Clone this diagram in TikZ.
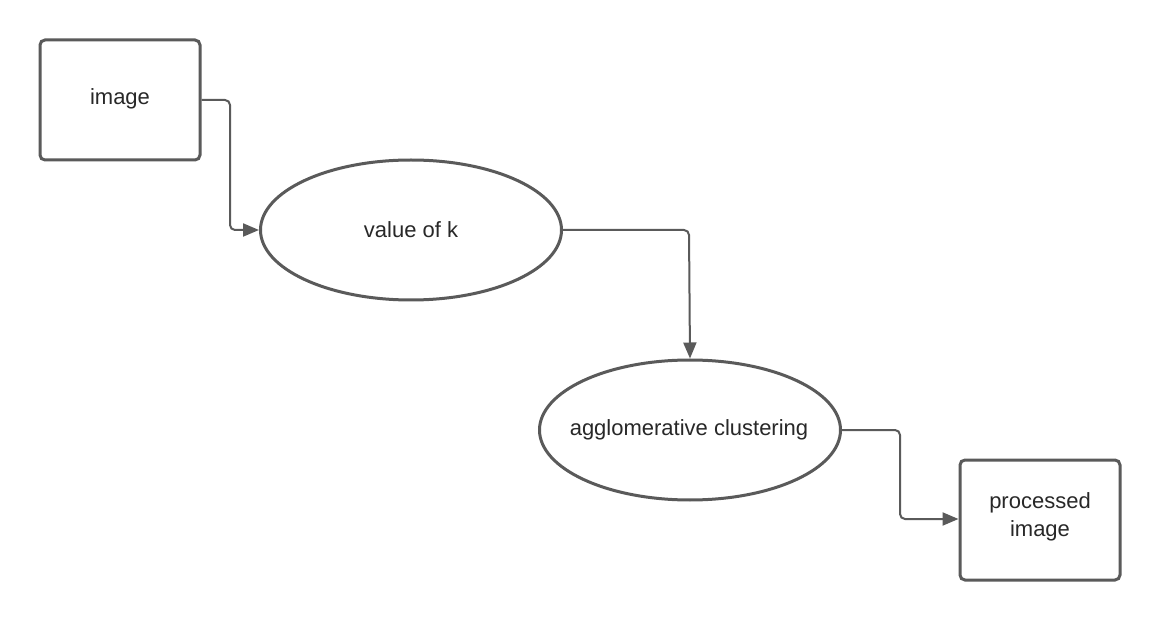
\documentclass[tikz,border=0pt]{standalone}
\usepackage{fontspec}
\setmainfont{Liberation Sans}
\usetikzlibrary{arrows.meta,shapes.geometric}
\definecolor{strokegray}{RGB}{90,90,90}
\definecolor{textgray}{RGB}{40,40,40}
\begin{document}
\begin{tikzpicture}[x=1pt,y=-1pt,
  every node/.style={font=\fontsize{22}{28}\selectfont, text=textgray, align=center, inner sep=0pt},
  boxnode/.style={draw=strokegray, line width=3pt, rounded corners=5pt, minimum width=160pt, minimum height=120pt, fill=white},
  ellnode/.style={draw=strokegray, line width=3pt, ellipse, minimum width=301pt, minimum height=140pt, fill=white},
  conn/.style={draw=strokegray, line width=2pt, rounded corners=5pt, -{Triangle[length=16pt,width=13pt]}}
]
\useasboundingbox (0,0) rectangle (1160,620);
\fill[white] (0,0) rectangle (1160,620);
\node[boxnode] (img) at (120,100) {};
\node at (120,99) {image};
\node[ellnode] (val) at (411,230) {};
\node at (411,230) {value of k};
\node[ellnode] (agg) at (690,430) {};
\node at (689,430) {agglomerative clustering};
\node[boxnode] (proc) at (1040,520) {};
\node at (1040,517) {processed\\image};
\draw[conn] (img.east) -- (230,100) -- (230,230) -- (val.west);
\draw[conn] (val.east) -- (689,230) -- (agg.north);
\draw[conn] (agg.east) -- (900,430) -- (900,519) -- (proc.west |- 0,519);
\end{tikzpicture}
\end{document}
